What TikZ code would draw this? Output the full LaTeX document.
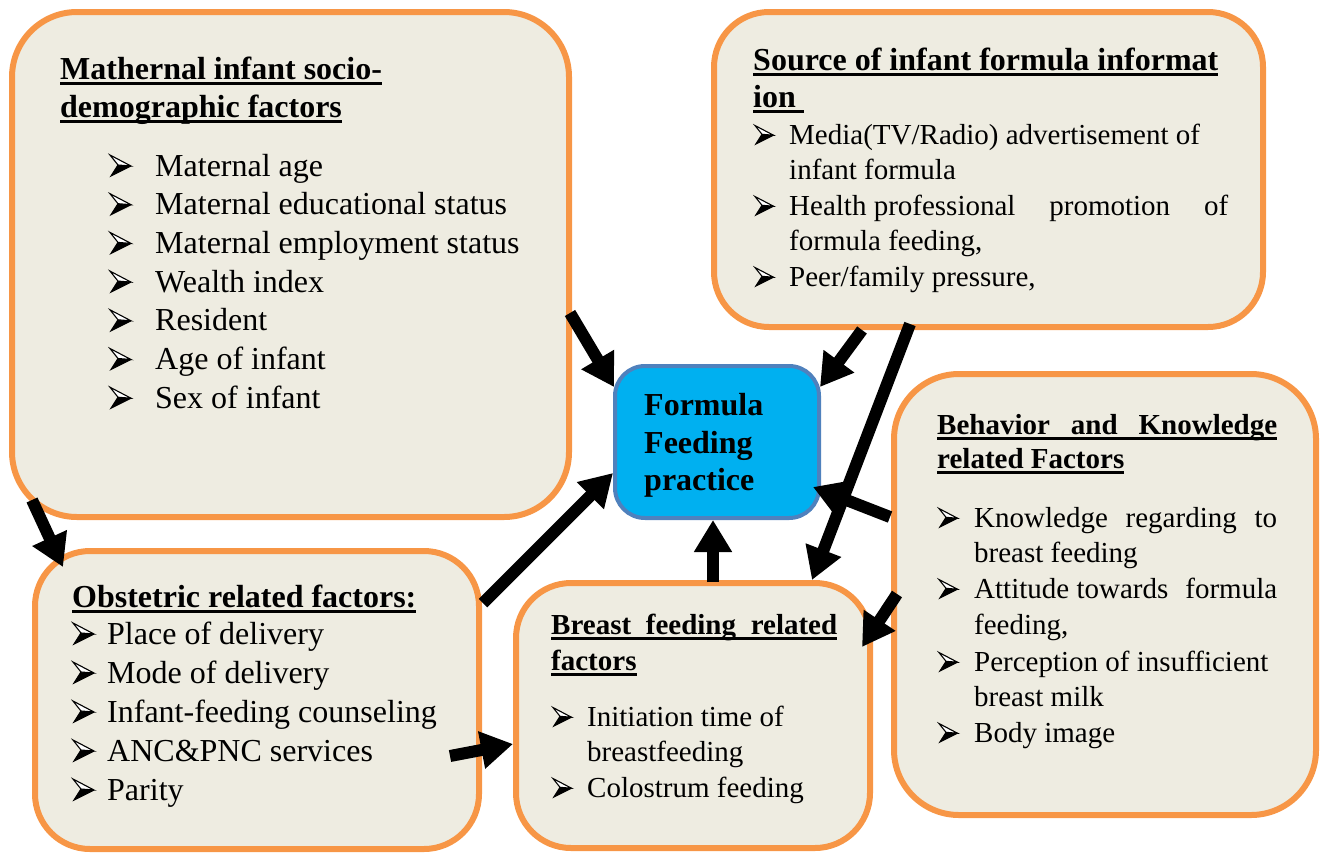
\documentclass[tikz,border=0pt]{standalone}
\usepackage{fontspec}
\setmainfont{Liberation Serif}
\usetikzlibrary{arrows.meta}
\definecolor{boxfill}{HTML}{EEECE1}
\definecolor{boxline}{HTML}{F79646}
\definecolor{ffill}{HTML}{00B0F0}
\definecolor{fline}{HTML}{4F81BD}
\newsavebox\ulbox
\newcommand\hul[1]{\sbox\ulbox{#1}\rlap{\rule[-6pt]{\wd\ulbox}{2.6pt}}\usebox\ulbox}
\newcommand\sul[2]{\hul{\makebox[#1][s]{#2}}}
\tikzset{
  factorbox/.style={draw=boxline, fill=boxfill, line width=6pt, rounded corners=#1, inner sep=0pt},
  mainbox/.style={draw=fline, fill=ffill, line width=4pt, rounded corners=30pt, inner sep=0pt},
  tA/.style={anchor=base west, inner sep=0pt, font=\fontsize{32}{38}\selectfont},
  tB/.style={anchor=base west, inner sep=0pt, font=\fontsize{29}{35}\selectfont},
  hA/.style={tA, font=\fontsize{32}{38}\selectfont\bfseries},
  hB/.style={tB, font=\fontsize{29}{35}\selectfont\bfseries},
  arr/.style={line width=12pt, -{Triangle[width=36pt,length=32pt]}},
  arrowbullet/.pic={
    \fill[black] (1,0) -- (8,-11) -- (21,-10) -- cycle;
    \draw[black, fill=white, line width=1.1pt, line join=miter] (0,-21) -- (21,-10) -- (8,-11) -- cycle;
    \draw[black, line width=1.1pt, line join=miter] (21,-10) -- (1,0) -- (8,-11);
  }
}
\begin{document}
\begin{tikzpicture}[x=1pt,y=-1pt]
\useasboundingbox (0,0) rectangle (1321,854);
% boxes
\node[factorbox=65pt, minimum width=557pt, minimum height=505pt] (mat) at (290.5,264.5) {};
\node[factorbox=55pt, minimum width=549pt, minimum height=315pt] (src) at (988.5,169.5) {};
\node[mainbox, minimum width=204pt, minimum height=152pt] (ffp) at (717,442) {};
\node[factorbox=65pt, minimum width=422pt, minimum height=441pt] (beh) at (1105,594.5) {};
\node[factorbox=55pt, minimum width=444pt, minimum height=298pt] (obs) at (257,700) {};
\node[factorbox=55pt, minimum width=354pt, minimum height=265pt] (bfr) at (693,715.5) {};

% Maternal box text
\node[hA] (m0) at (60,79) {\hul{Mathernal infant socio-}};
\node[hA] (m00) at (60,117) {\hul{demographic factors}};
\node[tA] (m1) at (155,176) {Maternal age};
\node[tA] (m2) at (155,214.7) {Maternal educational status};
\node[tA] (m3) at (155,253.4) {Maternal employment status};
\node[tA] (m4) at (155,292.1) {Wealth index};
\node[tA] (m5) at (155,330.8) {Resident};
\node[tA] (m6) at (155,369.5) {Age of infant};
\node[tA] (m7) at (155,408.2) {Sex of infant};
\foreach \y in {176,214.7,253.4,292.1,330.8,369.5,408.2}
  \pic at (110,\y) {arrowbullet};

% Source box text
\node[hA] (s0) at (753,70) {\hul{Source of infant formula informat}};
\node[hA] (s00) at (753,107) {\hul{ion\ }};
\node[tB] (s1) at (789,144) {Media(TV/Radio) advertisement of};
\node[tB] (s2) at (789,179.5) {infant formula};
\node[tB] (s3) at (789,215) {\makebox[439pt][l]{Health professional\hfill promotion\hfill of}};
\node[tB] (s4) at (789,250.5) {formula feeding,};
\node[tB] (s5) at (789,286) {Peer/family pressure,};
\foreach \y in {144,215,286}
  \pic[scale=0.88] at (755,\y) {arrowbullet};

% Formula feeding practice
\node[hA] (f1) at (644,415) {Formula};
\node[hA] (f2) at (644,453) {Feeding};
\node[hA] (f3) at (644,490) {practice};

% Behavior box text
\node[hB] (k0) at (937,434) {\sul{340pt}{Behavior and Knowledge}};
\node[hB] (k00) at (937,468) {\hul{related Factors}};
\node[tB] (k1) at (974,527) {\makebox[303pt][s]{Knowledge regarding to}};
\node[tB] (k2) at (974,562) {breast feeding};
\node[tB] (k3) at (974,598) {\makebox[303pt][l]{Attitude towards\hfill formula}};
\node[tB] (k4) at (974,634) {feeding,};
\node[tB] (k5) at (974,671) {Perception of insufficient};
\node[tB] (k6) at (974,706) {breast milk};
\node[tB] (k7) at (974,742) {Body image};
\foreach \y in {527,598,671,742}
  \pic[scale=0.88] at (939,\y) {arrowbullet};

% Obstetric box text
\node[hA] (o0) at (72,607) {\hul{Obstetric related factors:}};
\node[tA] (o1) at (107,644) {Place of delivery};
\node[tA] (o2) at (107,683) {Mode of delivery};
\node[tA] (o3) at (107,722) {Infant-feeding counseling};
\node[tA] (o4) at (107,761) {ANC\&PNC services};
\node[tA] (o5) at (107,800) {Parity};
\foreach \y in {644,683,722,761,800}
  \pic at (73,\y) {arrowbullet};

% Breast feeding box text
\node[hB] (b0) at (551,634) {\sul{286pt}{Breast feeding related}};
\node[hB] (b00) at (551,670) {\hul{factors}};
\node[tB] (b1) at (587,726) {Initiation time of};
\node[tB] (b2) at (587,761) {breastfeeding};
\node[tB] (b3) at (587,797) {Colostrum feeding};
\foreach \y in {726,797}
  \pic[scale=0.88] at (553,\y) {arrowbullet};

% connector end points
\coordinate (a1s) at (570,313); \coordinate (a1e) at (614,387);
\coordinate (a2s) at (862,330); \coordinate (a2e) at (820,387);
\coordinate (a3s) at (910,324); \coordinate (a3e) at (812,580);
\coordinate (a4s) at (890,517); \coordinate (a4e) at (813,487);
\coordinate (a5s) at (483,603); \coordinate (a5e) at (613,473);
\coordinate (a6s) at (713,582); \coordinate (a6e) at (713,520);
\coordinate (a7s) at (32,500);  \coordinate (a7e) at (63,567);
\coordinate (a8s) at (450,756); \coordinate (a8e) at (513,744);
\coordinate (a9s) at (897,594); \coordinate (a9e) at (862,647);

\draw[arr] (a1s) -- (a1e);
\draw[arr] (a2s) -- (a2e);
\draw[arr] (a3s) -- (a3e);
\draw[arr] (a4s) -- (a4e);
\draw[arr] (a5s) -- (a5e);
\draw[arr] (a6s) -- (a6e);
\draw[arr] (a7s) -- (a7e);
\draw[arr] (a8s) -- (a8e);
\draw[arr] (a9s) -- (a9e);
\end{tikzpicture}
\end{document}
